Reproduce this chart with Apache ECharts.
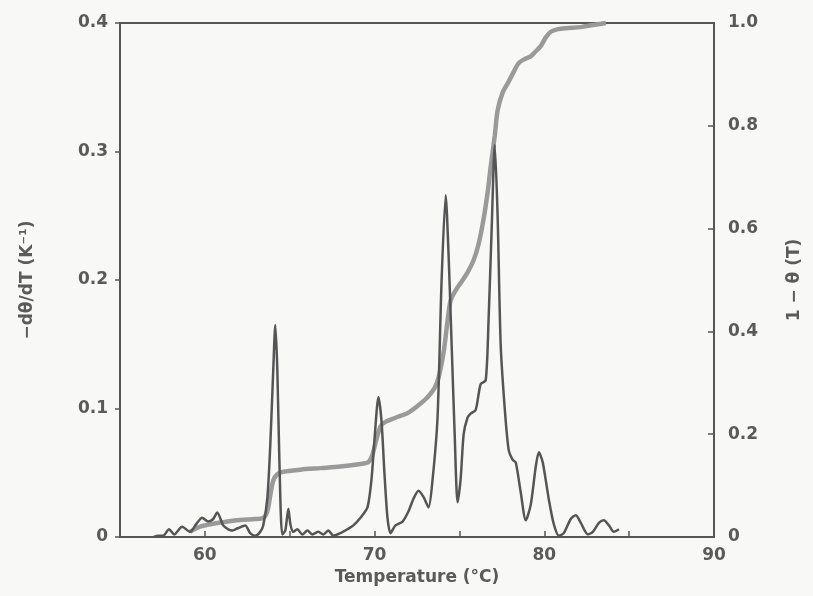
<!DOCTYPE html>
<html>
<head>
<meta charset="utf-8">
<script src="https://cdn.jsdelivr.net/npm/echarts@6/dist/echarts.min.js"></script>
<style>
html,body{margin:0;padding:0;background:#f8f8f7;}
#c{width:813px;height:596px;}
</style>
</head>
<body>
<div id="c"></div>
<script>
// Temperature (°C) and -dθ/dT (K^-1), left axis
const derivT = [57.0,57.24,57.54,57.89,58.19,58.66,59.13,59.49,59.84,60.19,60.49,60.73,61.08,61.38,61.61,61.97,62.38,62.67,62.97,63.26,63.44,63.68,63.85,64.03,64.15,64.27,64.39,64.56,64.74,64.92,65.04,65.21,65.45,65.74,66.04,66.33,66.69,66.98,67.28,67.57,67.99,68.40,68.75,69.17,69.58,69.82,69.99,70.23,70.41,70.58,70.76,70.94,71.23,71.65,72.0,72.30,72.59,72.89,73.18,73.42,73.71,73.95,74.19,74.36,74.54,74.72,74.89,75.07,75.25,75.48,75.66,75.96,76.25,76.55,76.72,76.90,77.08,77.25,77.43,77.67,77.90,78.14,78.32,78.61,78.91,79.20,79.50,79.68,79.91,80.27,80.56,80.86,81.15,81.56,81.86,82.15,82.57,82.86,83.22,83.51,83.81,84.10,84.40];
const derivVal = [0.0,0.001,0.001,0.006,0.002,0.008,0.004,0.010,0.015,0.012,0.014,0.019,0.009,0.006,0.005,0.007,0.009,0.003,0.001,0.004,0.009,0.030,0.07,0.13,0.165,0.13,0.06,0.002,0.005,0.022,0.010,0.004,0.006,0.002,0.005,0.002,0.004,0.002,0.005,0.001,0.003,0.006,0.009,0.015,0.023,0.045,0.075,0.109,0.09,0.05,0.015,0.003,0.009,0.012,0.020,0.030,0.036,0.031,0.023,0.045,0.093,0.20,0.266,0.22,0.15,0.08,0.027,0.045,0.080,0.093,0.096,0.099,0.119,0.122,0.17,0.24,0.305,0.25,0.15,0.10,0.068,0.060,0.058,0.035,0.013,0.025,0.055,0.066,0.058,0.029,0.010,0.001,0.003,0.014,0.017,0.011,0.002,0.004,0.011,0.013,0.009,0.004,0.006];
// Temperature (°C) and 1 - θ(T), right axis
const fracT = [59.13,59.72,60.90,62.08,62.97,63.44,63.68,63.85,64.03,64.27,64.62,65.63,66.81,67.99,69.17,69.64,69.87,70.11,70.35,70.64,71.23,71.94,72.53,73.12,73.54,73.77,74.07,74.30,74.48,74.78,75.07,75.48,75.84,76.13,76.43,76.66,76.84,77.08,77.25,77.55,77.85,78.20,78.49,78.85,79.20,79.50,79.79,80.09,80.38,80.80,81.27,82.15,82.86,83.63];
const fracVal = [0.01,0.02,0.028,0.033,0.035,0.037,0.05,0.08,0.11,0.122,0.127,0.131,0.134,0.137,0.142,0.146,0.16,0.19,0.215,0.224,0.232,0.241,0.255,0.272,0.29,0.31,0.36,0.42,0.46,0.48,0.494,0.515,0.539,0.57,0.62,0.67,0.72,0.78,0.83,0.865,0.883,0.905,0.922,0.93,0.935,0.945,0.955,0.972,0.983,0.988,0.99,0.992,0.996,1.0];
const xName = 'Temperature (°C)';
const leftName = '−dθ/dT (K⁻¹)';
const rightName = '1 − θ (T)';

const txt = '#5a5a5a';
const font = 'DejaVu Sans';
const lab = {color:txt, fontSize:17, fontFamily:font, fontWeight:'bold'};
const chart = echarts.init(document.getElementById('c'), null, {renderer:'canvas'});
chart.setOption({
  backgroundColor: '#f8f8f7',
  animation: false,
  grid: {left:120, right:99, top:23, bottom:59, show:true, borderColor:'#555', borderWidth:2, backgroundColor:'transparent'},
  xAxis: {
    type:'value', min:55, max:90, interval:5,
    name: xName, nameLocation:'middle', nameGap:32,
    nameTextStyle:lab,
    axisLine:{lineStyle:{color:'#555', width:2}},
    axisTick:{inside:true, length:6, lineStyle:{color:'#555', width:1.5}},
    axisLabel:Object.assign({margin:10, formatter: v => (v % 10 === 0 && v > 55) ? String(v) : ''}, lab),
    splitLine:{show:false}
  },
  yAxis: [{
    type:'value', min:0, max:0.4, interval:0.1,
    name: leftName, nameLocation:'middle', nameGap:84, nameRotate:90,
    nameTextStyle:lab,
    axisLine:{show:true, lineStyle:{color:'#555', width:2}},
    axisTick:{show:true, length:5, lineStyle:{color:'#555', width:1.5}},
    axisLabel:Object.assign({margin:12, formatter: v => v === 0 ? '0' : v.toFixed(1)}, lab),
    splitLine:{show:false}
  },{
    type:'value', min:0, max:1, interval:0.2, position:'right',
    name: rightName, nameLocation:'middle', nameGap:72, nameRotate:90,
    nameTextStyle:lab,
    axisLine:{show:true, lineStyle:{color:'#555', width:2}},
    axisTick:{show:true, inside:true, length:6, lineStyle:{color:'#555', width:1.5}},
    axisLabel:Object.assign({margin:14, formatter: v => v === 0 ? '0' : v.toFixed(1)}, lab),
    splitLine:{show:false}
  }],
  series: [{
    type:'line', yAxisIndex:1, showSymbol:false, smooth:0.3,
    data: fracT.map((t,i)=>[t, fracVal[i]]),
    lineStyle:{color:'#9a9a9a', width:4.5}, z:2
  },{
    type:'line', yAxisIndex:0, showSymbol:false, smooth:0.25,
    data: derivT.map((t,i)=>[t, derivVal[i]]),
    lineStyle:{color:'#555', width:2.5}, z:3
  }]
});
</script>
</body>
</html>
